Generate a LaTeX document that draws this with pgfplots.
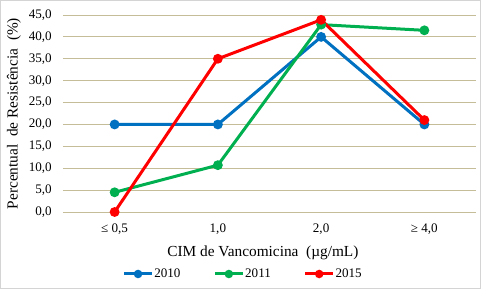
\documentclass[border=0pt]{standalone}
\usepackage{fontspec}
\setmainfont{Liberation Serif}
\usepackage{pgfplots}
\pgfplotsset{compat=1.18}
\definecolor{cblue}{HTML}{0070C0}
\definecolor{cgreen}{HTML}{00B050}
\definecolor{cred}{HTML}{FF0000}
\definecolor{cgrid}{HTML}{C4BD97}
\begin{document}
\begin{tikzpicture}
\path[use as bounding box] (0,0) rectangle (360.75pt,216.75pt);
\draw[black!17, line width=0.75pt] (0.375pt,0.375pt) rectangle (360.375pt,216.375pt);
\begin{axis}[
  at={(47.25pt,57.75pt)}, anchor=south west,
  scale only axis, width=309.75pt, height=147.75pt,
  xmin=-0.5, xmax=3.5, ymin=0, ymax=45,
  ytick={0,5,...,45},
  xtick={0,1,2,3},
  xticklabels={{≤ 0,5},{1,0},{2,0},{≥ 4,0}},
  axis line style={draw=none},
  major tick length=0pt,
  ymajorgrids, grid style={cgrid, line width=0.75pt},
  /pgf/number format/.cd, fixed, fixed zerofill, precision=1, use comma, assume math mode=true,
  /pgfplots/.cd,
  tick label style={font=\fontsize{9.8}{11}\selectfont, text=black},
  yticklabel style={xshift=-5pt},
  xticklabel style={yshift=-5pt},
  xlabel={CIM de Vancomicina\ \ (µg/mL)},
  ylabel={Percentual\ \ de Resistência\ \ (\%)},
  label style={font=\fontsize{11.5}{13}\selectfont},
  xlabel style={at={(axis description cs:0.484,-0.208)}, anchor=center},
  ylabel style={at={(axis description cs:-0.119,0.5)}, anchor=center},
  clip=false,
  every axis plot/.append style={line width=2.25pt, mark=*, mark size=2.5pt, mark options={solid}},
  legend columns=3,
  legend style={at={(axis description cs:0.4346,-0.3147)}, anchor=center, draw=none, fill=none,
    font=\fontsize{9.8}{11}\selectfont, inner sep=0pt,
    nodes={inner sep=0.6pt},
    /tikz/every even column/.append style={column sep=24pt}},
  legend image code/.code={\draw[mark repeat=2,mark phase=2, mark size=2pt] plot coordinates {(0cm,0cm)(0.37cm,0cm)(0.74cm,0cm)};},
]
\addplot[cblue] coordinates {(0,20) (1,20) (2,40) (3,20)};
\addlegendentry{2010}
\addplot[cgreen] coordinates {(0,4.5) (1,10.7) (2,42.8) (3,41.5)};
\addlegendentry{2011}
\addplot[cred] coordinates {(0,0) (1,35) (2,43.9) (3,21)};
\addlegendentry{2015}
\end{axis}
\end{tikzpicture}
\end{document}
